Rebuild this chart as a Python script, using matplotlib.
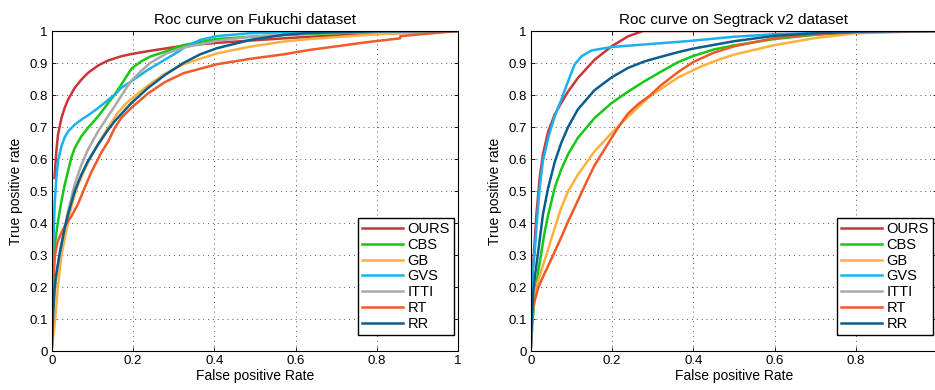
import numpy as np
import matplotlib
matplotlib.use("Agg")
import matplotlib.pyplot as plt

plt.rcParams.update({
    "font.family": ["Liberation Sans", "DejaVu Sans"], "font.size": 9,
    "axes.linewidth": 0.8, "xtick.direction": "in", "ytick.direction": "in",
    "xtick.top": True, "ytick.right": True,
})

methods = ["OURS", "CBS", "GB", "GVS", "ITTI", "RT", "RR"]
colors = ["#c9353b", "#14c814", "#ffb03c", "#19b2ef", "#a9a9a9", "#f05a28", "#0b5d8e"]

# ---- Fukuchi ----
fk_ours_x = [0.007, 0.0114, 0.0155, 0.024, 0.032, 0.04, 0.0565, 0.073, 0.089, 0.114, 0.139, 0.171, 0.196, 0.237, 0.278, 0.324, 0.406, 0.488, 0.57, 0.635, 0.7, 0.8, 0.9, 1.0]
fk_ours_y = [0.541, 0.624, 0.676, 0.728, 0.76, 0.785, 0.822, 0.848, 0.869, 0.892, 0.908, 0.921, 0.928, 0.937, 0.945, 0.954, 0.963, 0.97, 0.977, 0.982, 0.986, 0.991, 0.996, 1.0]
fk_cbs_x = [0, 0.003, 0.0073, 0.0155, 0.024, 0.032, 0.04, 0.048, 0.0565, 0.073, 0.089, 0.114, 0.139, 0.155, 0.171, 0.185, 0.196, 0.22, 0.242, 0.278, 0.324, 0.406, 0.488, 0.635, 0.8, 1.0]
fk_cbs_y = [0, 0.2, 0.33, 0.405, 0.468, 0.52, 0.561, 0.603, 0.634, 0.671, 0.697, 0.733, 0.775, 0.801, 0.832, 0.86, 0.882, 0.905, 0.92, 0.935, 0.956, 0.975, 0.982, 0.991, 0.997, 1.0]
fk_gb_x = [0, 0.004, 0.008, 0.016, 0.024, 0.035, 0.05, 0.065, 0.082, 0.1, 0.12, 0.14, 0.16, 0.18, 0.196, 0.237, 0.278, 0.324, 0.406, 0.488, 0.57, 0.635, 0.8, 0.9, 1.0]
fk_gb_y = [0, 0.05, 0.09, 0.21, 0.3, 0.37, 0.46, 0.52, 0.57, 0.615, 0.66, 0.7, 0.74, 0.77, 0.788, 0.83, 0.866, 0.896, 0.93, 0.951, 0.967, 0.975, 0.99, 0.996, 1.0]
fk_gvs_x = [0, 0.002, 0.004, 0.0073, 0.0114, 0.0155, 0.024, 0.032, 0.04, 0.0565, 0.073, 0.089, 0.114, 0.139, 0.155, 0.171, 0.196, 0.237, 0.278, 0.311, 0.324, 0.365, 0.406, 0.488, 0.635, 0.8, 1.0]
fk_gvs_y = [0, 0.2, 0.33, 0.46, 0.541, 0.593, 0.64, 0.668, 0.686, 0.707, 0.723, 0.736, 0.759, 0.785, 0.801, 0.822, 0.843, 0.879, 0.91, 0.935, 0.947, 0.972, 0.984, 0.993, 0.998, 1.0, 1.0]
fk_itti_x = [0, 0.004, 0.01, 0.017, 0.024, 0.032, 0.04, 0.0565, 0.073, 0.089, 0.114, 0.139, 0.155, 0.175, 0.196, 0.22, 0.242, 0.283, 0.324, 0.406, 0.488, 0.635, 0.8, 1.0]
fk_itti_y = [0, 0.12, 0.22, 0.28, 0.332, 0.384, 0.436, 0.52, 0.582, 0.629, 0.686, 0.735, 0.765, 0.805, 0.845, 0.875, 0.9, 0.93, 0.948, 0.969, 0.982, 0.993, 0.998, 1.0]
fk_rt_x = [0, 0.002, 0.004, 0.008, 0.014, 0.024, 0.032, 0.048, 0.065, 0.081, 0.098, 0.122, 0.139, 0.155, 0.171, 0.196, 0.237, 0.278, 0.324, 0.406, 0.488, 0.57, 0.635, 0.7, 0.775, 0.857, 0.858, 1.0]
fk_rt_y = [0, 0.12, 0.22, 0.30, 0.34, 0.37, 0.39, 0.42, 0.46, 0.51, 0.56, 0.62, 0.655, 0.697, 0.728, 0.76, 0.805, 0.84, 0.868, 0.896, 0.913, 0.927, 0.941, 0.952, 0.965, 0.977, 0.984, 1.0]
fk_rr_x = [0, 0.003, 0.006, 0.01, 0.0196, 0.032, 0.04, 0.0565, 0.073, 0.089, 0.114, 0.139, 0.155, 0.196, 0.237, 0.278, 0.324, 0.365, 0.406, 0.488, 0.57, 0.635, 0.8, 1.0]
fk_rr_y = [0, 0.1, 0.18, 0.23, 0.306, 0.384, 0.426, 0.499, 0.551, 0.593, 0.645, 0.692, 0.718, 0.775, 0.822, 0.862, 0.9, 0.927, 0.946, 0.972, 0.988, 0.994, 0.999, 1.0]

# ---- Segtrack v2 ----
sg_ours_x = [0, 0.002, 0.005, 0.008, 0.014, 0.022, 0.03, 0.043, 0.059, 0.075, 0.092, 0.116, 0.157, 0.199, 0.239, 0.276, 0.4, 0.6, 0.8, 1.0]
sg_ours_y = [0, 0.15, 0.25, 0.306, 0.426, 0.54, 0.614, 0.686, 0.739, 0.775, 0.811, 0.853, 0.91, 0.952, 0.983, 1.0, 1.0, 1.0, 1.0, 1.0]
sg_cbs_x = [0, 0.005, 0.01, 0.019, 0.026, 0.034, 0.043, 0.059, 0.075, 0.092, 0.116, 0.157, 0.199, 0.24, 0.28, 0.322, 0.363, 0.4, 0.45, 0.5, 0.6, 0.7, 0.8, 1.0]
sg_cbs_y = [0, 0.1, 0.17, 0.253, 0.306, 0.37, 0.425, 0.51, 0.567, 0.615, 0.666, 0.728, 0.775, 0.811, 0.843, 0.874, 0.903, 0.922, 0.942, 0.955, 0.975, 0.988, 0.996, 1.0]
sg_gb_x = [0, 0.003, 0.008, 0.016, 0.027, 0.043, 0.059, 0.075, 0.092, 0.116, 0.157, 0.199, 0.24, 0.293, 0.363, 0.42, 0.466, 0.5, 0.6, 0.7, 0.8, 1.0]
sg_gb_y = [0, 0.09, 0.16, 0.21, 0.255, 0.318, 0.384, 0.447, 0.499, 0.551, 0.624, 0.681, 0.733, 0.796, 0.855, 0.89, 0.912, 0.926, 0.956, 0.978, 0.993, 1.0]
sg_gvs_x = [0, 0.002, 0.005, 0.0098, 0.014, 0.022, 0.03, 0.043, 0.059, 0.075, 0.092, 0.108, 0.125, 0.149, 0.199, 0.28, 0.363, 0.4, 0.5, 0.6, 0.8, 1.0]
sg_gvs_y = [0, 0.15, 0.25, 0.306, 0.384, 0.509, 0.593, 0.666, 0.733, 0.785, 0.843, 0.895, 0.921, 0.939, 0.95, 0.958, 0.966, 0.97, 0.982, 0.99, 0.997, 1.0]
sg_itti_x = []
sg_itti_y = []
sg_rt_x = [0, 0.002, 0.006, 0.019, 0.035, 0.05, 0.0625, 0.075, 0.092, 0.116, 0.138, 0.157, 0.179, 0.199, 0.22, 0.24, 0.265, 0.293, 0.32, 0.363, 0.4, 0.45, 0.5, 0.6, 0.7, 0.8, 1.0]
sg_rt_y = [0, 0.08, 0.14, 0.2, 0.245, 0.285, 0.32, 0.355, 0.405, 0.47, 0.53, 0.58, 0.625, 0.666, 0.708, 0.743, 0.772, 0.798, 0.83, 0.872, 0.903, 0.932, 0.952, 0.978, 0.99, 0.996, 1.0]
sg_rr_x = [0, 0.003, 0.006, 0.011, 0.018, 0.03, 0.043, 0.059, 0.075, 0.092, 0.116, 0.157, 0.199, 0.24, 0.28, 0.322, 0.363, 0.4, 0.5, 0.6, 0.7, 0.8, 1.0]
sg_rr_y = [0, 0.1, 0.18, 0.24, 0.306, 0.426, 0.51, 0.59, 0.65, 0.7, 0.755, 0.815, 0.855, 0.885, 0.905, 0.92, 0.934, 0.945, 0.968, 0.985, 0.993, 0.998, 1.0]

x_ticks = [0, 0.2, 0.4, 0.6, 0.8, 1]
fk_x_labels = ["0", "0.2", "0.4", "0.6", "0.8", "1"]
sg_x_labels = ["0", "0.2", "0.4", "0.6", "0.8", ""]   # the "1" falls outside the figure
y_ticks = [0, 0.1, 0.2, 0.3, 0.4, 0.5, 0.6, 0.7, 0.8, 0.9, 1]
y_labels = ["0", "0.1", "0.2", "0.3", "0.4", "0.5", "0.6", "0.7", "0.8", "0.9", "1"]

panels = [
    ("Roc curve on Fukuchi dataset", fk_x_labels,
     [(fk_ours_x, fk_ours_y), (fk_cbs_x, fk_cbs_y), (fk_gb_x, fk_gb_y), (fk_gvs_x, fk_gvs_y),
      (fk_itti_x, fk_itti_y), (fk_rt_x, fk_rt_y), (fk_rr_x, fk_rr_y)]),
    ("Roc curve on Segtrack v2 dataset", sg_x_labels,
     [(sg_ours_x, sg_ours_y), (sg_cbs_x, sg_cbs_y), (sg_gb_x, sg_gb_y), (sg_gvs_x, sg_gvs_y),
      (sg_itti_x, sg_itti_y), (sg_rt_x, sg_rt_y), (sg_rr_x, sg_rr_y)]),
]

fig = plt.figure(figsize=(9.35, 3.9), dpi=100)
W, H = 935.0, 390.0
for (title, xlabs, series), left in zip(panels, [51.7, 530.7]):
    ax = fig.add_axes([left / W, 39 / H, 406.5 / W, 320 / H])
    for (xs, ys), name, col in zip(series, methods, colors):
        ax.plot(xs, ys, color=col, lw=1.8, label=name)
    ax.set_xlim(0, 1); ax.set_ylim(0, 1)
    ax.set_xticks(x_ticks); ax.set_xticklabels(xlabs)
    ax.set_yticks(y_ticks); ax.set_yticklabels(y_labels)
    ax.tick_params(length=3, width=0.6, pad=3, labelsize=9.5)
    ax.grid(True, color="#555555", linestyle=(0, (1, 4)), lw=0.7)
    ax.set_title(title, fontsize=11, pad=5)
    ax.set_xlabel("False positive Rate", fontsize=10, labelpad=1)
    ax.set_ylabel("True positive rate", fontsize=10, labelpad=4)
    leg = ax.legend(loc="lower right", bbox_to_anchor=(0.99, 0.05), borderaxespad=0,
                    fancybox=False, framealpha=1, edgecolor="black", fontsize=10.5,
                    handlelength=2.8, handletextpad=0.3, labelspacing=0.12,
                    borderpad=0.3)
    leg.get_frame().set_linewidth(1.0)

fig.savefig("out.png", dpi=100)
